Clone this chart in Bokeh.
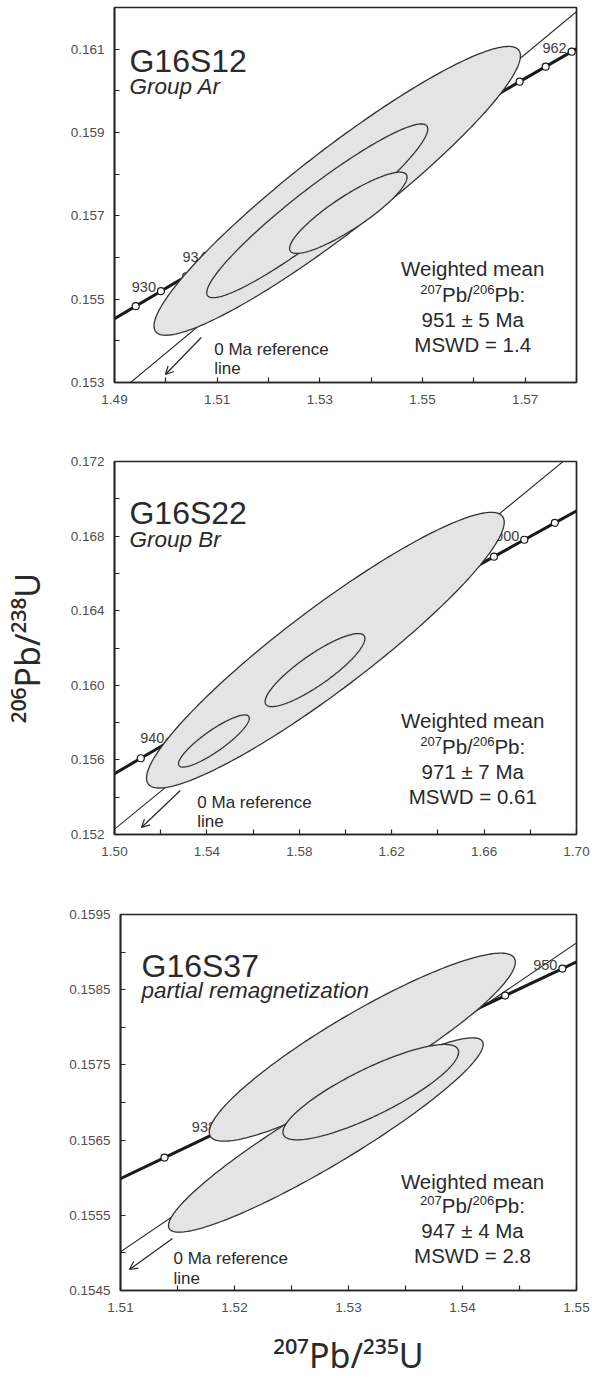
import numpy as np
from bokeh.plotting import figure
from bokeh.layouts import column, row
from bokeh.models import FixedTicker, PrintfTickFormatter, Label, Arrow, OpenHead, Spacer
from bokeh.core.properties import value
from bokeh.embed import file_html
from bokeh.resources import INLINE

FONT = "Liberation Sans"
INK = "#262626"
TEXT = "#2a2a2a"
TICK_TEXT = "#505050"
FILL = "#e4e4e4"

# ---------------- Panel 1 : G16S12 ----------------
p1_name, p1_group = "G16S12", "Group Ar"
p1_mean_age, p1_mswd = "951 ± 5 Ma", "MSWD = 1.4"
p1_xlim = [1.49, 1.58]
p1_ylim = [0.153, 0.162]
p1_xticks = [1.49, 1.51, 1.53, 1.55, 1.57]
p1_xminor = [1.50, 1.52, 1.54, 1.56, 1.58]
p1_yticks = [0.153, 0.155, 0.157, 0.159, 0.161]
p1_yminor = [0.154, 0.156, 0.158, 0.160, 0.162]
p1_conc_age = [926, 928, 930, 932, 934, 958, 960, 962, 964]
p1_conc_x = [1.489224, 1.494132, 1.499050, 1.503977, 1.508914, 1.568922, 1.573987, 1.579062, 1.584147]
p1_conc_y = [0.154475, 0.154833, 0.155192, 0.155550, 0.155909, 0.160220, 0.160580, 0.160940, 0.161301]
p1_marker_age = [928, 930, 932, 934, 958, 960, 962]
p1_label_age = [930, 934, 962]
p1_ref_ratio = 9.759
p1_ell_x = [1.53339, 1.52950, 1.53555]
p1_ell_y = [0.157600, 0.157120, 0.157073]
p1_ell_sx = [0.03569, 0.02153, 0.01144]
p1_ell_sy = [0.003466, 0.002085, 0.000975]
p1_ell_rho = [0.935, 0.942, 0.877]

# ---------------- Panel 2 : G16S22 ----------------
p2_name, p2_group = "G16S22", "Group Br"
p2_mean_age, p2_mswd = "971 ± 7 Ma", "MSWD = 0.61"
p2_xlim = [1.50, 1.70]
p2_ylim = [0.152, 0.172]
p2_xticks = [1.50, 1.54, 1.58, 1.62, 1.66, 1.70]
p2_xminor = [1.52, 1.56, 1.60, 1.64, 1.68]
p2_yticks = [0.152, 0.156, 0.160, 0.164, 0.168, 0.172]
p2_yminor = [0.154, 0.158, 0.162, 0.166, 0.170]
p2_conc_age = [930, 935, 940, 960, 980, 995, 1000, 1005, 1010]
p2_conc_x = [1.499050, 1.511386, 1.523783, 1.573987, 1.625189, 1.664259, 1.677410, 1.690627, 1.703909]
p2_conc_y = [0.155192, 0.156088, 0.156985, 0.160580, 0.164187, 0.166898, 0.167804, 0.168710, 0.169617]
p2_marker_age = [935, 940, 995, 1000, 1005]
p2_label_age = [940, 960, 980, 1000]
p2_ref_ratio = 9.850
p2_ell_x = [1.59128, 1.58680, 1.54303]
p2_ell_y = [0.161884, 0.160816, 0.157013]
p2_ell_sx = [0.077425, 0.02160, 0.01532]
p2_ell_sy = [0.007391, 0.001959, 0.001398]
p2_ell_rho = [0.928, 0.864, 0.873]

# ---------------- Panel 3 : G16S37 ----------------
p3_name, p3_group = "G16S37", "partial remagnetization"
p3_mean_age, p3_mswd = "947 ± 4 Ma", "MSWD = 2.8"
p3_xlim = [1.51, 1.55]
p3_ylim = [0.1545, 0.1595]
p3_xticks = [1.51, 1.52, 1.53, 1.54, 1.55]
p3_xminor = [1.515, 1.525, 1.535, 1.545]
p3_yticks = [0.1545, 0.1555, 0.1565, 0.1575, 0.1585, 0.1595]
p3_yminor = [0.155, 0.156, 0.157, 0.158, 0.159]
p3_conc_age = [934, 936, 938, 940, 942, 944, 946, 948, 950, 952]
p3_conc_x = [1.508914, 1.513860, 1.518817, 1.523783, 1.528759, 1.533745, 1.538740, 1.543746, 1.548761, 1.553787]
p3_conc_y = [0.155909, 0.156267, 0.156626, 0.156985, 0.157344, 0.157703, 0.158062, 0.158422, 0.158781, 0.159141]
p3_marker_age = [936, 938, 940, 942, 944, 946, 948, 950]
p3_label_age = [938, 942, 946, 950]
p3_ref_ratio = 9.741
p3_ell_x = [1.53121, 1.528012, 1.531955]
p3_ell_y = [0.157736, 0.156568, 0.157138]
p3_ell_sx = [0.013422, 0.013803, 0.007705]
p3_ell_sy = [0.001250, 0.001292, 0.000634]
p3_ell_rho = [0.904, 0.932, 0.839]

# texts
x_title = "²⁰⁷Pb/²³⁵U"
y_title = "²⁰⁶Pb/²³⁸U"
wm_title = "Weighted mean"
wm_ratio = [("207", True), ("Pb/", False), ("206", True), ("Pb:", False)]
ref_text = ["0 Ma reference", "line"]

panels = [
    dict(name=p1_name, group=p1_group, age=p1_mean_age, mswd=p1_mswd, xlim=p1_xlim, ylim=p1_ylim,
         xticks=p1_xticks, xminor=p1_xminor, yticks=p1_yticks, yminor=p1_yminor, yfmt="%.3f",
         conc_age=p1_conc_age, conc_x=p1_conc_x, conc_y=p1_conc_y, marker_age=p1_marker_age,
         label_age=p1_label_age, ref_ratio=p1_ref_ratio,
         ell=(p1_ell_x, p1_ell_y, p1_ell_sx, p1_ell_sy, p1_ell_rho)),
    dict(name=p2_name, group=p2_group, age=p2_mean_age, mswd=p2_mswd, xlim=p2_xlim, ylim=p2_ylim,
         xticks=p2_xticks, xminor=p2_xminor, yticks=p2_yticks, yminor=p2_yminor, yfmt="%.3f",
         conc_age=p2_conc_age, conc_x=p2_conc_x, conc_y=p2_conc_y, marker_age=p2_marker_age,
         label_age=p2_label_age, ref_ratio=p2_ref_ratio,
         ell=(p2_ell_x, p2_ell_y, p2_ell_sx, p2_ell_sy, p2_ell_rho)),
    dict(name=p3_name, group=p3_group, age=p3_mean_age, mswd=p3_mswd, xlim=p3_xlim, ylim=p3_ylim,
         xticks=p3_xticks, xminor=p3_xminor, yticks=p3_yticks, yminor=p3_yminor, yfmt="%.4f",
         conc_age=p3_conc_age, conc_x=p3_conc_x, conc_y=p3_conc_y, marker_age=p3_marker_age,
         label_age=p3_label_age, ref_ratio=p3_ref_ratio,
         ell=(p3_ell_x, p3_ell_y, p3_ell_sx, p3_ell_sy, p3_ell_rho)),
]

# ---------------- layout (pixels, relative to each plot frame) ----------------
layouts = [
    dict(width=592, height=440, left=113, right=16, top=7, bottom=58, name_at=(15, 53), group_at=(15, 79),
         wm_x=359, wm_base=[-114, -88, -63, -38], ref_x=100, ref_base=[-33, -14],
         arrow=((87, 330), (51, 367))),
    dict(width=592, height=440, left=113, right=16, top=21, bottom=46, name_at=(15, 51), group_at=(15, 78),
         wm_x=359, wm_base=[-114, -88, -63, -38], ref_x=83, ref_base=[-32, -13],
         arrow=((66, 329), (27, 366))),
    dict(width=585, height=502, left=113, right=16, top=34, bottom=92, name_at=(21, 51), group_at=(21, 76),
         wm_x=352, wm_base=[-109, -85, -60, -35], ref_x=53, ref_base=[-32, -12],
         arrow=((52, 324), (9, 355))),
]

ADV = {c: 0.556 for c in "0123456789"}
ADV.update({"P": 0.667, "b": 0.556, "/": 0.278, ":": 0.278, "U": 0.722})

NAME_SIZE = 32
GROUP_SIZE = 22.5
WM_SIZE = 20.5
WM_SUP = 13
REF_SIZE = 17
TICK_SIZE = "13.5px"
AGE_SIZE = "14.5px"


def text_width(s, size):
    return sum(ADV[c] for c in s) * size


def rich(p, x, y, pieces, main, sup, color=TEXT):
    sizes = [sup if is_sup else main for _, is_sup in pieces]
    total = sum(text_width(t, s) for (t, _), s in zip(pieces, sizes))
    cum = -total / 2
    rise = 0.716 * (main - sup)
    for (t, is_sup), s in zip(pieces, sizes):
        p.add_layout(Label(x=x, y=y, text=t, text_font=FONT, text_font_size=f"{s}px", text_color=color,
                           text_align="left", text_baseline="alphabetic",
                           x_offset=cum, y_offset=rise if is_sup else 0.0))
        cum += text_width(t, s)


def build(d, L):
    x0, x1 = d["xlim"]
    y0, y1 = d["ylim"]
    fw = L["width"] - L["left"] - L["right"]
    fh = L["height"] - L["top"] - L["bottom"]

    def X(px):
        return x0 + px / fw * (x1 - x0)

    def Y(py):
        return y1 - py / fh * (y1 - y0)

    p = figure(width=L["width"], height=L["height"], x_range=(x0, x1), y_range=(y0, y1),
               output_backend="svg", toolbar_location=None, title=None,
               min_border_left=L["left"], min_border_right=L["right"],
               min_border_top=L["top"], min_border_bottom=L["bottom"],
               background_fill_color="white", border_fill_color="white")
    p.grid.visible = False
    p.outline_line_color = INK
    p.outline_line_width = 1.7
    p.outline_line_alpha = 1.0
    for ax, ticks, minor, fmt, so in ((p.xaxis[0], d["xticks"], d["xminor"], "%.2f", 12),
                                      (p.yaxis[0], d["yticks"], d["yminor"], d["yfmt"], 10)):
        ax.ticker = FixedTicker(ticks=ticks, minor_ticks=minor)
        ax.formatter = PrintfTickFormatter(format=fmt)
        ax.major_tick_in = 5
        ax.major_tick_out = 0
        ax.minor_tick_in = 5
        ax.minor_tick_out = 0
        ax.axis_line_color = INK
        ax.axis_line_width = 1.7
        ax.major_tick_line_color = INK
        ax.major_tick_line_width = 1.2
        ax.minor_tick_line_color = INK
        ax.minor_tick_line_width = 1.2
        ax.major_label_text_font = FONT
        ax.major_label_text_font_size = TICK_SIZE
        ax.major_label_text_color = TICK_TEXT
        ax.major_label_standoff = so
        ax.axis_label_text_font = "Noto Sans"
        ax.axis_label_text_font_size = "34px"
        ax.axis_label_text_font_style = "normal"
        ax.axis_label_text_color = TEXT

    # 0 Ma reference line (through the origin)
    span = x1 - x0
    rx = [x0 - 0.05 * span, x1 + 0.05 * span]
    p.line(rx, [v / d["ref_ratio"] for v in rx], line_color=INK, line_width=1.1)

    # concordia curve, age markers and labels
    p.line(d["conc_x"], d["conc_y"], line_color="#1a1a1a", line_width=3.0)
    look = dict(zip(d["conc_age"], zip(d["conc_x"], d["conc_y"])))
    p.text([look[a][0] for a in d["label_age"]], [look[a][1] for a in d["label_age"]],
           text=[str(a) for a in d["label_age"]], text_align="right", text_baseline="middle",
           x_offset=-5, y_offset=-4, text_font=value(FONT), text_font_size=AGE_SIZE,
           text_color="#404040")
    p.scatter([look[a][0] for a in d["marker_age"]], [look[a][1] for a in d["marker_age"]],
              marker="circle", size=7, fill_color="white", line_color="#1a1a1a", line_width=1.2)

    # error ellipses
    t = np.linspace(0, 2 * np.pi, 241)
    xs, ys = [], []
    for cx, cy, sx, sy, r in zip(*d["ell"]):
        xs.append(cx + sx * np.cos(t))
        ys.append(cy + sy * (r * np.cos(t) + np.sqrt(1 - r * r) * np.sin(t)))
    p.patches(xs, ys, fill_color=FILL, line_color="#333333", line_width=1.3)

    def lab(px, py, text, size, style="normal", align="left"):
        p.add_layout(Label(x=X(px), y=Y(py), text=text, text_font=FONT, text_font_size=f"{size}px",
                           text_font_style=style, text_align=align, text_baseline="alphabetic",
                           text_color=TEXT))

    lab(*L["name_at"], d["name"], NAME_SIZE)
    lab(*L["group_at"], d["group"], GROUP_SIZE, style="italic")

    wb = [fh + b for b in L["wm_base"]]
    lab(L["wm_x"], wb[0], wm_title, WM_SIZE, align="center")
    rich(p, X(L["wm_x"]), Y(wb[1]), wm_ratio, WM_SIZE, WM_SUP)
    lab(L["wm_x"], wb[2], d["age"], WM_SIZE, align="center")
    lab(L["wm_x"], wb[3], d["mswd"], WM_SIZE, align="center")

    rb = [fh + b for b in L["ref_base"]]
    lab(L["ref_x"], rb[0], ref_text[0], REF_SIZE)
    lab(L["ref_x"], rb[1], ref_text[1], REF_SIZE)
    (ax0, ay0), (ax1, ay1) = L["arrow"]
    p.add_layout(Arrow(end=OpenHead(size=8, line_color=INK, line_width=1.2),
                       x_start=X(ax0), y_start=Y(ay0), x_end=X(ax1), y_end=Y(ay1),
                       line_color=INK, line_width=1.2))
    return p


f1 = build(panels[0], layouts[0])
f2 = build(panels[1], layouts[1])
f3 = build(panels[2], layouts[2])

f2.yaxis.axis_label = y_title
f2.yaxis.axis_label_standoff = 18
f3.xaxis.axis_label = x_title
f3.xaxis.axis_label_standoff = 17

page = column(f1, f2, row(Spacer(width=7, height=502), f3))
open("out.html", "w").write(file_html(page, INLINE))
